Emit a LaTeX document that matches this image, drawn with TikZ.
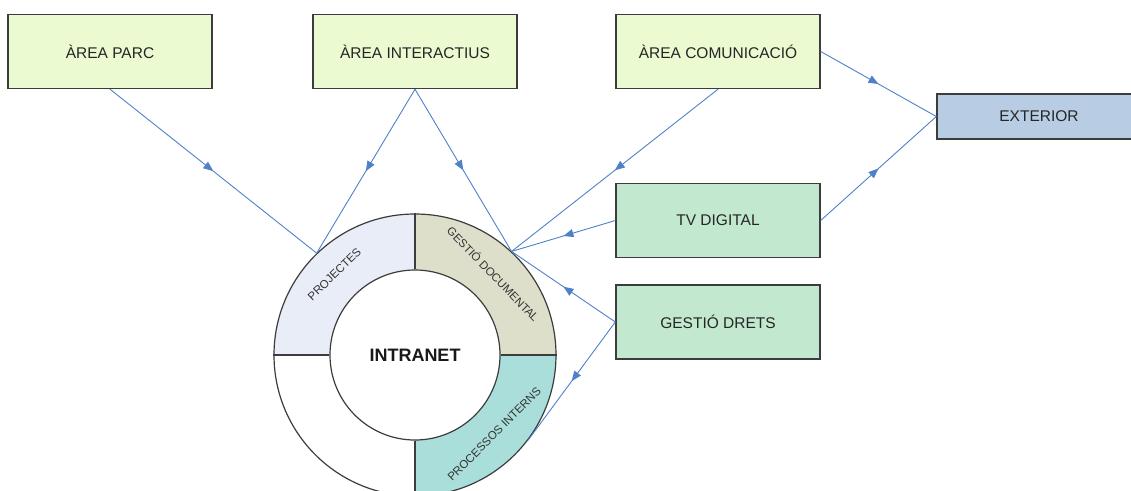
\documentclass[tikz,border=0pt]{standalone}
\usepackage{fontspec}
\setmainfont{Liberation Sans}
\usetikzlibrary{arrows.meta,decorations.markings,positioning}
\definecolor{areafill}{HTML}{EBFAD0}
\definecolor{tvfill}{HTML}{C2E9CF}
\definecolor{extfill}{HTML}{B8CCE4}
\definecolor{projfill}{HTML}{E8EDF7}
\definecolor{docfill}{HTML}{DDDFCB}
\definecolor{procfill}{HTML}{A9DEDA}
\definecolor{linkblue}{HTML}{4F81C8}
\definecolor{rimgray}{HTML}{3C3C3C}

\begin{document}
\begin{tikzpicture}[x=1pt, y=1pt,
  box/.style={shape=rectangle, draw=rimgray, line width=1.4pt, minimum width=204pt, minimum height=74pt, font=\fontsize{15.5}{17}\selectfont, text=black!85},
  link/.style={draw=linkblue, line width=0.9pt, postaction={decorate},
    decoration={markings, mark=at position 0.5 with {\arrow[linkblue]{Triangle[length=10pt, width=8pt]}}}},
  ringtext/.style={font=\fontsize{11.5}{13}\selectfont, text=black!80}]
\useasboundingbox (0,0) rectangle (1131,-490);

% boxes
\node [box, fill=areafill] (Parc) at (110,-51.5) {ÀREA PARC};
\node [box, fill=areafill, right of=Parc, node distance=305pt] (Inter) {ÀREA INTERACTIUS};
\node [box, fill=areafill, right of=Inter, node distance=303pt] (Comu) {ÀREA COMUNICACIÓ};
\node [box, fill=tvfill, below of=Comu, node distance=169pt] (TV) {TV DIGITAL};
\node [box, fill=tvfill, below of=TV, node distance=101.5pt] (Drets) {GESTIÓ DRETS};
\node [box, fill=extfill, minimum height=45pt] (Ext) at (1039,-116.5) {EXTERIOR};

% ring
\coordinate (C) at (415,-355);
\foreach \a/\c in {90/projfill, 0/docfill, -90/procfill}
  \fill [\c] (C) -- ++(\a:141) arc [start angle=\a, end angle=\a+90, radius=141] -- cycle;
\node [shape=circle, draw=rimgray, line width=1.2pt, minimum size=282pt] (Outer) at (C) {};
\node [shape=circle, draw=rimgray, line width=1.2pt, fill=white, minimum size=170pt,
  font=\bfseries\fontsize{18}{20}\selectfont, text=black!90] (Inner) at (C) {INTRANET};
\foreach \a in {90,0,-90,180}
  \draw [rimgray, line width=1.8pt] (Inner.\a) -- (Outer.\a);

\path (C) ++(135:114) node [ringtext, rotate=44] (Proj) {PROJECTES};
\path (C) ++(46:113) node [ringtext, rotate=-46] (Doc) {GESTIÓ DOCUMENTAL};
\path (C) ++(-45:112) node [ringtext, rotate=45] (Proc) {PROCESSOS INTERNS};

% links
\draw [link] (Parc.south) -- (Outer.134);
\draw [link] (Inter.south) -- (Outer.134);
\draw [link] (Inter.south) -- (Outer.47);
\draw [link] (Comu.south) -- (Outer.47);
\draw [link] (TV.west) -- (Outer.47);
\draw [link] (Drets.west) -- (Outer.47);
\draw [link] (Drets.west) -- (Outer.-37);
\draw [link] (Comu.east) -- (Ext.west);
\draw [link] (TV.east) -- (Ext.west);
\end{tikzpicture}
\end{document}
